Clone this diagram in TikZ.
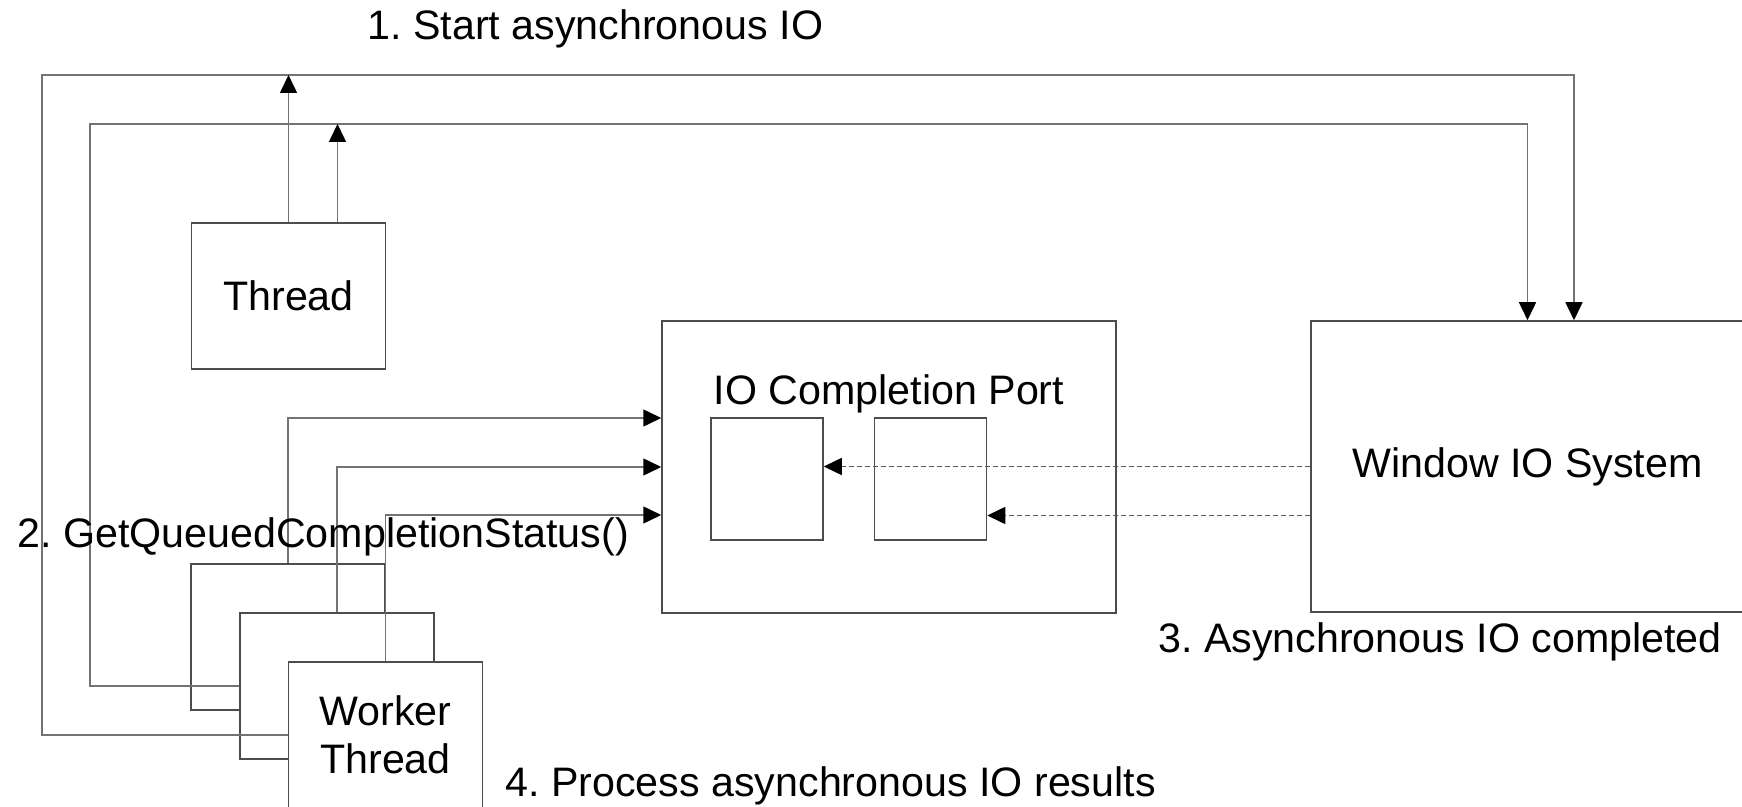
\documentclass[tikz,border=0pt]{standalone}
\usepackage{fontspec}
\setmainfont{Liberation Sans}
\usepackage{tikz}
\usetikzlibrary{positioning,arrows.meta}
\frenchspacing

\begin{document}
\begin{tikzpicture}[
  x = 0.5pt, y = -0.5pt,
  box/.style = {draw=black!70, line width=0.75pt, fill=white, inner sep=0pt,
                align=center, font=\fontsize{20.6}{24}\selectfont},
  unit/.style = {box, minimum width=97pt, minimum height=73pt},
  slot/.style = {box, minimum width=56pt, minimum height=61pt},
  arr/.style = {draw=black!55, line width=0.75pt, -{Triangle[length=9pt, width=8.5pt, black]}},
  done/.style = {arr, draw=black!65, dashed, dash pattern=on 2.5pt off 1.5pt},
  lbl/.style = {inner sep=0pt, anchor=base west, font=\fontsize{20.6}{24}\selectfont}
]
  \useasboundingbox (0,0) rectangle (1742,807);

  \node[unit] (thread) at (288.5,296) {Thread};
  \node[box, minimum width=227pt, minimum height=146pt] (iocp) at (889,467) {};
  \node[lbl, anchor=base] (portname) at (889,405) {IO Completion Port};
  \node[slot] (slot1) at (767,479) {};
  \node[slot, right=25pt of slot1] (slot2) {};
  \node[box, minimum width=216.5pt, minimum height=145.5pt] (winio) at (1527.5,466.5) {Window IO System};

  \node[unit] (worker1) at (288,637) {};
  \node[unit] (worker2) at (337,686) {};
  \node[unit] (worker3) at (385.5,735) {Worker\\Thread};

  \coordinate (outer) at (42,75);
  \coordinate (inner) at (90,124);
  \coordinate (lower) at ([yshift=-24.5pt]winio.west);

  \draw[arr] (worker3.west) -| (outer) -| ([xshift=23.25pt]winio.north);
  \draw[arr] (worker2.west) -| (inner) -| (winio.north);
  \draw[arr] (thread.north) -- (thread.north |- outer);
  \draw[arr] ([xshift=24.5pt]thread.north) -- ([xshift=24.5pt]thread.north |- inner);

  \draw[arr] (worker1.north) |- ([yshift=24.5pt]iocp.west);
  \draw[arr] (worker2.north) |- (iocp.west);
  \draw[arr] (worker3.north) |- ([yshift=-24pt]iocp.west);

  \draw[done] (winio.west) -- (slot1.east |- winio.west);
  \draw[done] (lower) -- (slot2.east |- lower);

  \node[lbl] (step1) at (367,40) {1. Start asynchronous IO};
  \node[lbl] (step2) at (17,548) {2. GetQueuedCompletionStatus()};
  \node[lbl] (step3) at (1158,653) {3. Asynchronous IO completed};
  \node[lbl] (step4) at (505,796) {4. Process asynchronous IO results};
\end{tikzpicture}
\end{document}
